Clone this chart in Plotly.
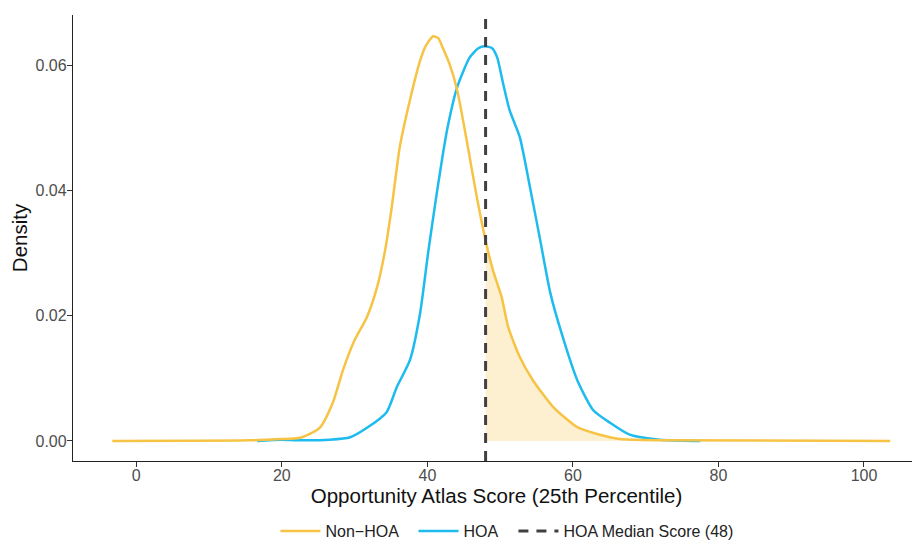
import plotly.graph_objects as go

# ---- data ----
non_hoa_x = [-3.3, 15.6, 19.7, 22.5, 25.2, 27.0, 28.4, 30.0, 31.7, 33.1, 34.2, 35.1, 36.2, 37.6,
             39.0, 39.8, 40.8, 41.5, 42.1, 43.1, 44.1, 45.4, 46.8, 48.0, 49.0, 50.2, 51.1, 52.7,
             54.5, 57.3, 60.6, 63.7, 66.5, 72.0, 103.6]
non_hoa_y = [0.0, 0.0001, 0.0003, 0.0005, 0.0021, 0.0061, 0.0113, 0.0161, 0.0198, 0.0246, 0.0305,
             0.0373, 0.0469, 0.0544, 0.0607, 0.0631, 0.0646, 0.0643, 0.0628, 0.0600, 0.0560, 0.0480,
             0.0389, 0.0320, 0.0273, 0.0230, 0.0182, 0.0134, 0.0097, 0.0054, 0.0022, 0.0010,
             0.0003, 0.0001, 0.0]

hoa_x = [16.6, 19.9, 22.5, 26.6, 29.4, 31.7, 34.4, 35.8, 37.6, 39.0, 40.1, 41.3, 42.7, 44.1, 45.8,
         47.0, 47.9, 48.9, 49.6, 50.4, 51.3, 52.7, 54.1, 55.5, 56.9, 58.6, 60.6, 62.8, 65.1, 67.8,
         71.9, 77.5]
hoa_y = [0.0, 0.0002, 0.0001, 0.0002, 0.0006, 0.0021, 0.0046, 0.0086, 0.0129, 0.0204, 0.0300,
         0.0396, 0.0496, 0.0565, 0.0612, 0.0627, 0.0630, 0.0627, 0.0612, 0.0571, 0.0528, 0.0485,
         0.0405, 0.0321, 0.0236, 0.0166, 0.0097, 0.0049, 0.0029, 0.0010, 0.0002, 0.0]

median_score = 48
x_ticks = [0, 20, 40, 60, 80, 100]
y_ticks = [0.00, 0.02, 0.04, 0.06]
x_range = [-8.7, 107.7]
y_range = [-0.0032, 0.068]

YELLOW = "#F6C344"
BLUE = "#1DBBEE"
FILL = "rgba(246,195,68,0.25)"
DARK = "#404040"
FONT = "Liberation Sans, Arial"

fill_x = [x for x in non_hoa_x if x >= median_score]
fill_y = [y for x, y in zip(non_hoa_x, non_hoa_y) if x >= median_score]

fig = go.Figure()
fig.add_trace(go.Scatter(x=fill_x, y=fill_y, mode="lines", line=dict(width=0, shape="spline", smoothing=0.6),
                         fill="tozeroy", fillcolor=FILL, showlegend=False, hoverinfo="skip"))
fig.add_trace(go.Scatter(x=hoa_x, y=hoa_y, mode="lines", name="HOA", legend="legend2",
                         line=dict(color=BLUE, width=2.5, shape="spline", smoothing=0.6)))
fig.add_trace(go.Scatter(x=non_hoa_x, y=non_hoa_y, mode="lines", name="Non\u2212HOA", legend="legend",
                         line=dict(color=YELLOW, width=2.5, shape="spline", smoothing=0.6)))
fig.add_trace(go.Scatter(x=[median_score, median_score], y=y_range, mode="lines",
                         name="HOA Median Score (48)", legend="legend3",
                         line=dict(color=DARK, width=3, dash="10px,8px")))

axis_common = dict(showline=True, linecolor="#222", linewidth=1.3, ticks="outside", ticklen=5,
                   tickcolor="#333", showgrid=False, zeroline=False, automargin=False,
                   tickfont=dict(family=FONT, size=16, color="#4D4D4D"))

def leg(x):
    return dict(orientation="h", x=x, xanchor="left", y=-0.157, yanchor="middle",
                font=dict(size=16, color="#222"), itemwidth=40, bgcolor="rgba(0,0,0,0)")

# the page body adds an 8px offset, so the figure is 8px smaller on each side it shifts
fig.update_layout(
    width=912, height=534,
    margin=dict(l=65, r=0, t=7, b=81, autoexpand=False),
    plot_bgcolor="white", paper_bgcolor="white",
    font=dict(family=FONT, color="#111"),
    xaxis=dict(range=x_range, tickvals=x_ticks, ticktext=[str(t) for t in x_ticks],
               ticklabelstandoff=-5,
               title=dict(text="Opportunity Atlas Score (25th Percentile)", font=dict(size=20.5, color="#111"),
                          standoff=1), **axis_common),
    yaxis=dict(range=y_range, tickvals=y_ticks, ticktext=["%.2f" % t for t in y_ticks],
               ticklabelstandoff=-3,
               title=dict(text="Density", font=dict(size=20.5, color="#111"), standoff=2), **axis_common),
    legend=leg(0.239),
    legend2=leg(0.402),
    legend3=leg(0.520),
    showlegend=True,
)

fig.write_html("out.html")
